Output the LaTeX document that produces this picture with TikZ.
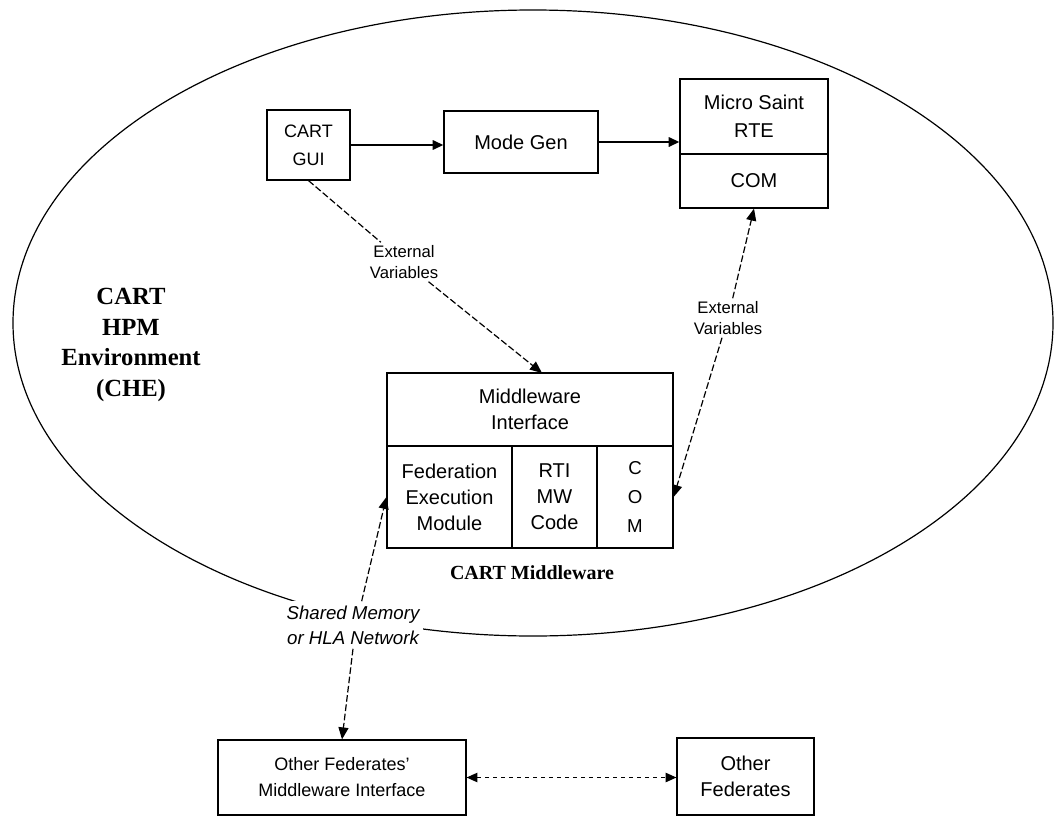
\documentclass[tikz,border=0pt]{standalone}
\usepackage{fontspec}
\setmainfont{Liberation Serif}
\setsansfont{Liberation Sans}
\usetikzlibrary{arrows.meta}
\begin{document}
\begin{tikzpicture}[x=0.75pt,y=-0.75pt,
  box/.style={draw, line width=0.9pt, inner sep=0pt, align=center,
              font=\sffamily\fontsize{15}{20}\selectfont},
  flow/.style={line width=1.6pt, -{Triangle[length=8pt,width=7pt]}},
  conn/.style={line width=0.9pt, dash pattern=on 5pt off 2pt},
  tip/.style={-{Triangle[length=9pt,width=7.5pt]}},
  bothtips/.style={{Triangle[length=8pt,width=7pt]}-{Triangle[length=8pt,width=7pt]}},
  note/.style={fill=white, inner sep=2pt, align=center,
               font=\sffamily\fontsize{12.5}{16}\selectfont},
  heading/.style={align=center, font=\bfseries\fontsize{18.5}{23}\selectfont}
]
\useasboundingbox (0,0) rectangle (1055,817);
\fill[white] (0,0) rectangle (1055,817);

% boundary of the HPM environment
\draw[line width=0.9pt] (533,323) ellipse [x radius=390pt, y radius=234.75pt];

\node[heading] (che) at (131,345) {CART\\HPM\\Environment\\(CHE)};

% top row of tools
\node[box, minimum width=62.25pt, minimum height=52.5pt,
      font=\sffamily\fontsize{13.5}{21}\selectfont] (gui) at (308.5,145) {CART\\GUI};
\node[box, minimum width=115.5pt, minimum height=46.5pt] (modegen) at (521,142) {Mode Gen};
\node[box, minimum width=111pt, minimum height=56.25pt,
      font=\sffamily\fontsize{15}{21}\selectfont] (micro) at (754,116.5) {Micro Saint\\RTE};
\node[box, minimum width=111pt, minimum height=40.5pt] (microcom) at (754,181) {COM};

\draw[flow] (gui.east) -- (gui.east -| modegen.west);
\draw[flow] (modegen.east) -- (modegen.east -| micro.west);

% CART middleware block
\node[box, minimum width=214.5pt, minimum height=54.75pt,
      font=\sffamily\fontsize{15}{19}\selectfont] (mwif) at (530,409.5) {Middleware\\Interface};
\node[box, minimum width=93.75pt, minimum height=76.5pt,
      font=\sffamily\fontsize{15}{19.5}\selectfont] (fem) at (449.5,497) {Federation\\Execution\\Module};
\node[box, minimum width=63.75pt, minimum height=76.5pt,
      font=\sffamily\fontsize{15}{19.5}\selectfont] (rti) at (554.5,497) {RTI\\MW\\Code};
\node[box, minimum width=57pt, minimum height=76.5pt,
      font=\sffamily\fontsize{14}{22}\selectfont] (mwcom) at (635,497) {C\\O\\M};
\node[font=\bfseries\fontsize{15}{18}\selectfont] (mwname) at (532,573) {CART Middleware};

% external variable links
\coordinate (mwin) at (542,373);
\node[note] (ext1) at (404,262) {External\\Variables};
\node[note] (ext2) at (728,318) {External\\Variables};
\draw[conn] (gui.south) -- (ext1);
\draw[conn, tip] (ext1) -- (mwin);
\draw[conn, tip] (ext2) -- (mwcom.east);
\draw[conn, tip] (ext2) -- (microcom.south);

% shared memory / HLA link to other federates
\node[note, inner sep=3pt, font=\sffamily\itshape\fontsize{14}{19}\selectfont] (shm) at (353,625)
  {Shared Memory\\or HLA Network};
\draw[conn, tip] (shm.70) -- (fem.west);

\node[box, minimum width=186pt, minimum height=56.25pt,
      font=\sffamily\fontsize{13.5}{19.5}\selectfont] (ofmi) at (342,777.5)
  {Other Federates'\\Middleware Interface};
\node[box, minimum width=102.75pt, minimum height=57.75pt,
      font=\sffamily\fontsize{15}{19.5}\selectfont] (other) at (745.5,776.5)
  {Other\\Federates};

\draw[conn, tip] (shm.south) -- (ofmi.north);
\draw[line width=0.8pt, dashed, bothtips] (ofmi.east) -- (ofmi.east -| other.west);
\end{tikzpicture}
\end{document}
